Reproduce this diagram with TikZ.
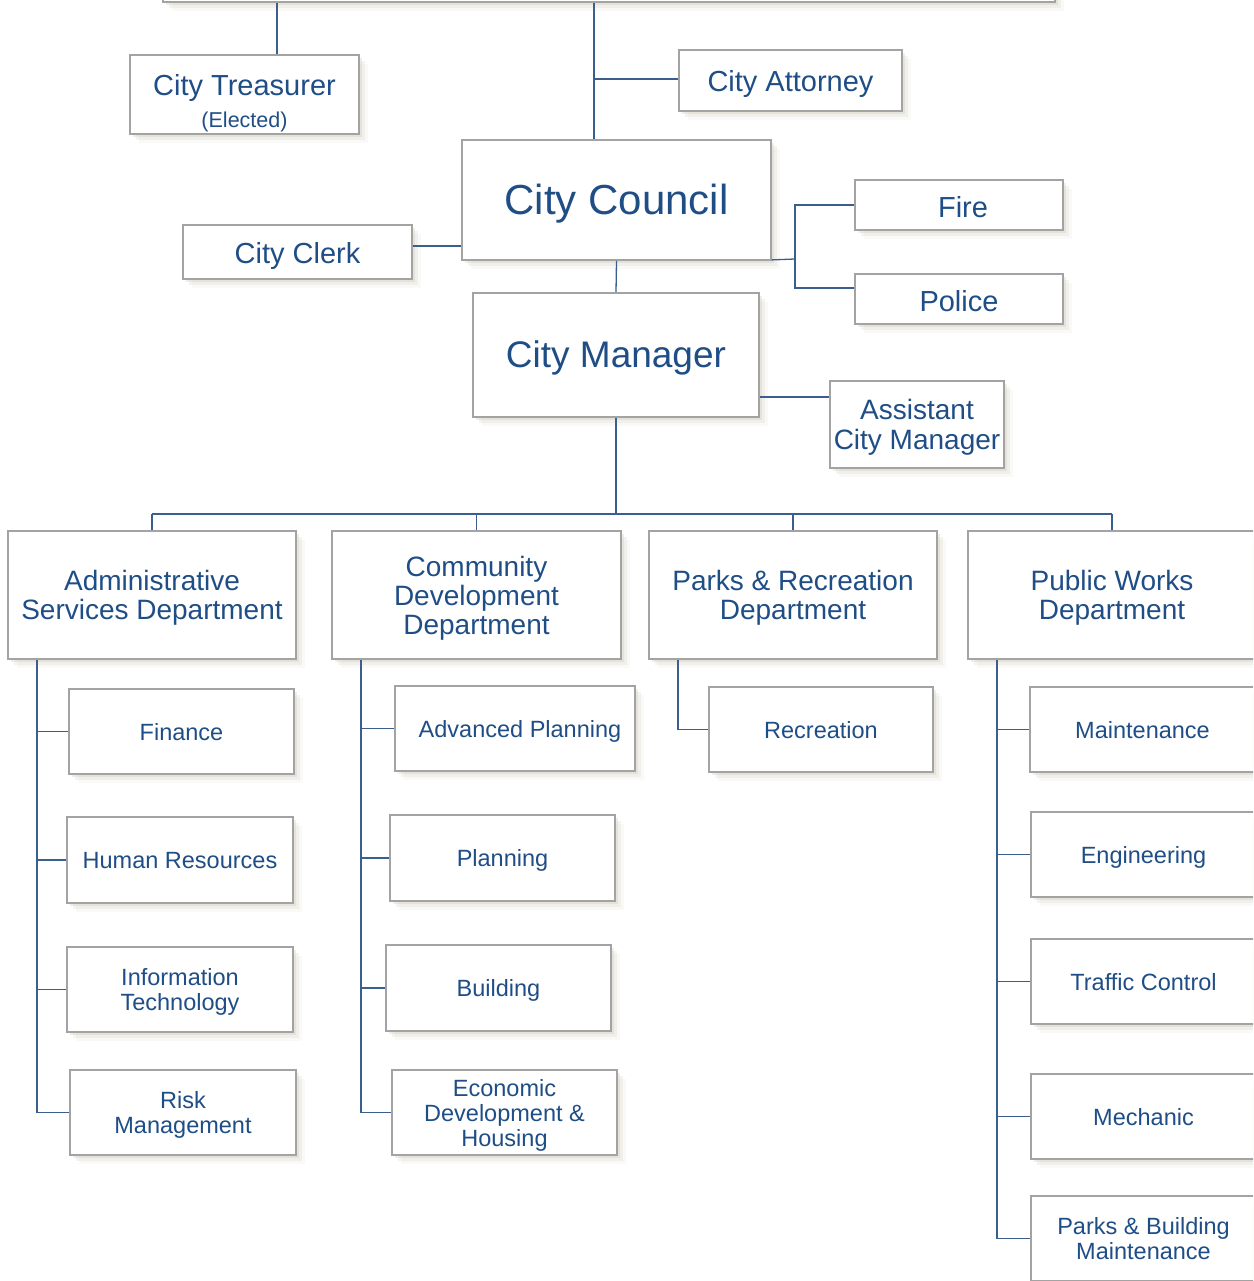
\documentclass[tikz,border=0pt]{standalone}
\usepackage{fontspec}
\setmainfont{Liberation Sans}
\usetikzlibrary{shadows}
\definecolor{txtblue}{HTML}{1F4E87}
\definecolor{lineblue}{HTML}{3A5F8F}
\definecolor{boxgray}{HTML}{A3A3A3}
\definecolor{shadowc}{HTML}{B8B49C}
\tikzset{
  box/.style={draw=boxgray, line width=1.8pt, fill=white, inner sep=0pt, align=center,
    text=txtblue, text depth=0pt,
    drop shadow={shadow xshift=9pt, shadow yshift=-9pt, opacity=0.08, fill=shadowc},
    drop shadow={shadow xshift=6pt, shadow yshift=-6pt, opacity=0.14, fill=shadowc},
    drop shadow={shadow xshift=3pt, shadow yshift=-3pt, opacity=0.22, fill=shadowc}},
  conn/.style={draw=lineblue, line width=1.3pt},
  bigf/.style={font=\fontsize{42}{46}\selectfont},
  mgrf/.style={font=\fontsize{37}{40}\selectfont},
  topf/.style={font=\fontsize{29}{32}\selectfont},
  deptf/.style={font=\fontsize{28}{29}\selectfont},
  kidf/.style={font=\fontsize{23.5}{25}\selectfont},
}
\begin{document}
\begin{tikzpicture}[x=1pt,y=-1pt]
\useasboundingbox (0,0) rectangle (1253,1281);
\clip (0,0) rectangle (1253,1281);
% top level
\node[box, minimum width=892, minimum height=100] (board) at (609,-48) {};
\node[box, topf, minimum width=229, minimum height=79] (treas) at (244.5,94.5)
  {\raisebox{4pt}{\begin{tabular}{@{}c@{}}City Treasurer\\[0pt]{\fontsize{21.5}{24}\selectfont (Elected)}\end{tabular}}};
\node[box, topf, minimum width=223, minimum height=61] (attorney) at (790.5,80.5) {City Attorney};
\node[box, bigf, minimum width=309, minimum height=120] (council) at (616.5,200) {\raisebox{1pt}{City Council}};
\node[box, topf, minimum width=229, minimum height=54] (clerk) at (297.5,252) {\raisebox{-1pt}{City Clerk}};
\node[box, topf, minimum width=208, minimum height=50] (fire) at (959,205) {\hspace{8pt}\raisebox{-3pt}{Fire}};
\node[box, topf, minimum width=208, minimum height=50] (police) at (959,299) {\raisebox{-3pt}{Police}};
\node[box, mgrf, minimum width=286, minimum height=124] (manager) at (616,355) {\raisebox{1pt}{City Manager}};
\node[box, font=\fontsize{28}{29.5}\selectfont, minimum width=174, minimum height=87] (asst) at (917,424.5) {Assistant\\City Manager};
% departments
\node[box, deptf, minimum width=288, minimum height=128] (admin) at (152,595) {Administrative\\Services Department};
\node[box, deptf, minimum width=289, minimum height=128] (commdev) at (476.5,595) {Community\\Development\\Department};
\node[box, deptf, minimum width=288, minimum height=128] (parks) at (793,595) {Parks \& Recreation\\Department};
\node[box, deptf, minimum width=288, minimum height=128] (pw) at (1112,595) {Public Works\\Department};
% admin children
\node[box, kidf, minimum width=225, minimum height=85] (finance) at (181.5,731.5) {Finance};
\node[box, kidf, minimum width=226, minimum height=86] (hr) at (180,860) {Human Resources};
\node[box, kidf, minimum width=226, minimum height=85] (it) at (180,989.5) {Information\\Technology};
\node[box, kidf, minimum width=226, minimum height=85] (risk) at (183,1112.5) {Risk\\Management};
% community children
\node[box, kidf, minimum width=240, minimum height=85] (advp) at (515,728.5) {\hspace{10pt}Advanced Planning};
\node[box, kidf, minimum width=225, minimum height=86] (planning) at (502.5,858) {Planning};
\node[box, kidf, minimum width=225, minimum height=86] (building) at (498.5,988) {Building};
\node[box, kidf, minimum width=225, minimum height=85] (econ) at (504.5,1112.5) {Economic\\Development \&\\Housing};
% parks children
\node[box, kidf, minimum width=224, minimum height=85] (rec) at (821,729.5) {Recreation};
% public works children
\node[box, kidf, minimum width=225, minimum height=85] (maint) at (1142.5,729.5) {Maintenance};
\node[box, kidf, minimum width=225, minimum height=85] (eng) at (1143.5,854.5) {Engineering};
\node[box, kidf, minimum width=225, minimum height=85] (traffic) at (1143.5,981.5) {Traffic Control};
\node[box, kidf, minimum width=225, minimum height=85] (mech) at (1143.5,1116.5) {Mechanic};
\node[box, kidf, minimum width=225, minimum height=85] (pbm) at (1143.5,1238.5) {Parks \& Building\\Maintenance};
% connectors, top
\draw[conn] ([xshift=32.5]treas.north) -- ([xshift=32.5]treas.north |- board.south);
\coordinate (sp) at (594,79);
\draw[conn] (board.south -| sp) -- (council.north -| sp);
\draw[conn] (sp) -- (attorney.west |- sp);
\draw[conn] ([yshift=6]clerk.east) -- ([yshift=6]clerk.east -| council.west);
\coordinate (fp) at (795,259);
\draw[conn] ([yshift=1]council.south east) -- (fp);
\draw[conn] (fire.west) -| (fp) |- ([yshift=11]police.west);
\draw[conn] (council.south) -- (manager.north);
\draw[conn] ([yshift=27.5]asst.west) -- ([yshift=27.5]asst.west -| manager.east);
% bus to departments
\coordinate (bus) at (616,514);
\draw[conn] (manager.south) -- (bus);
\draw[conn] (admin.north |- bus) -- (pw.north |- bus);
\foreach \d in {admin,commdev,parks,pw} \draw[conn] (\d.north |- bus) -- (\d.north);
% department spines
\coordinate (aS) at ([xshift=-115]admin.south);
\coordinate (cS) at ([xshift=-115.5]commdev.south);
\coordinate (pS) at ([xshift=-115]parks.south);
\coordinate (wS) at ([xshift=-115]pw.south);
\draw[conn] (aS) |- (risk.west);
\foreach \n in {finance,hr,it} \draw[conn] (\n.west) -- (\n.west -| aS);
\draw[conn] (cS) |- (econ.west);
\foreach \n in {advp,planning,building} \draw[conn] (\n.west) -- (\n.west -| cS);
\draw[conn] (pS) |- (rec.west);
\draw[conn] (wS) |- (pbm.west);
\foreach \n in {maint,eng,traffic,mech} \draw[conn] (\n.west) -- (\n.west -| wS);
\end{tikzpicture}
\end{document}
